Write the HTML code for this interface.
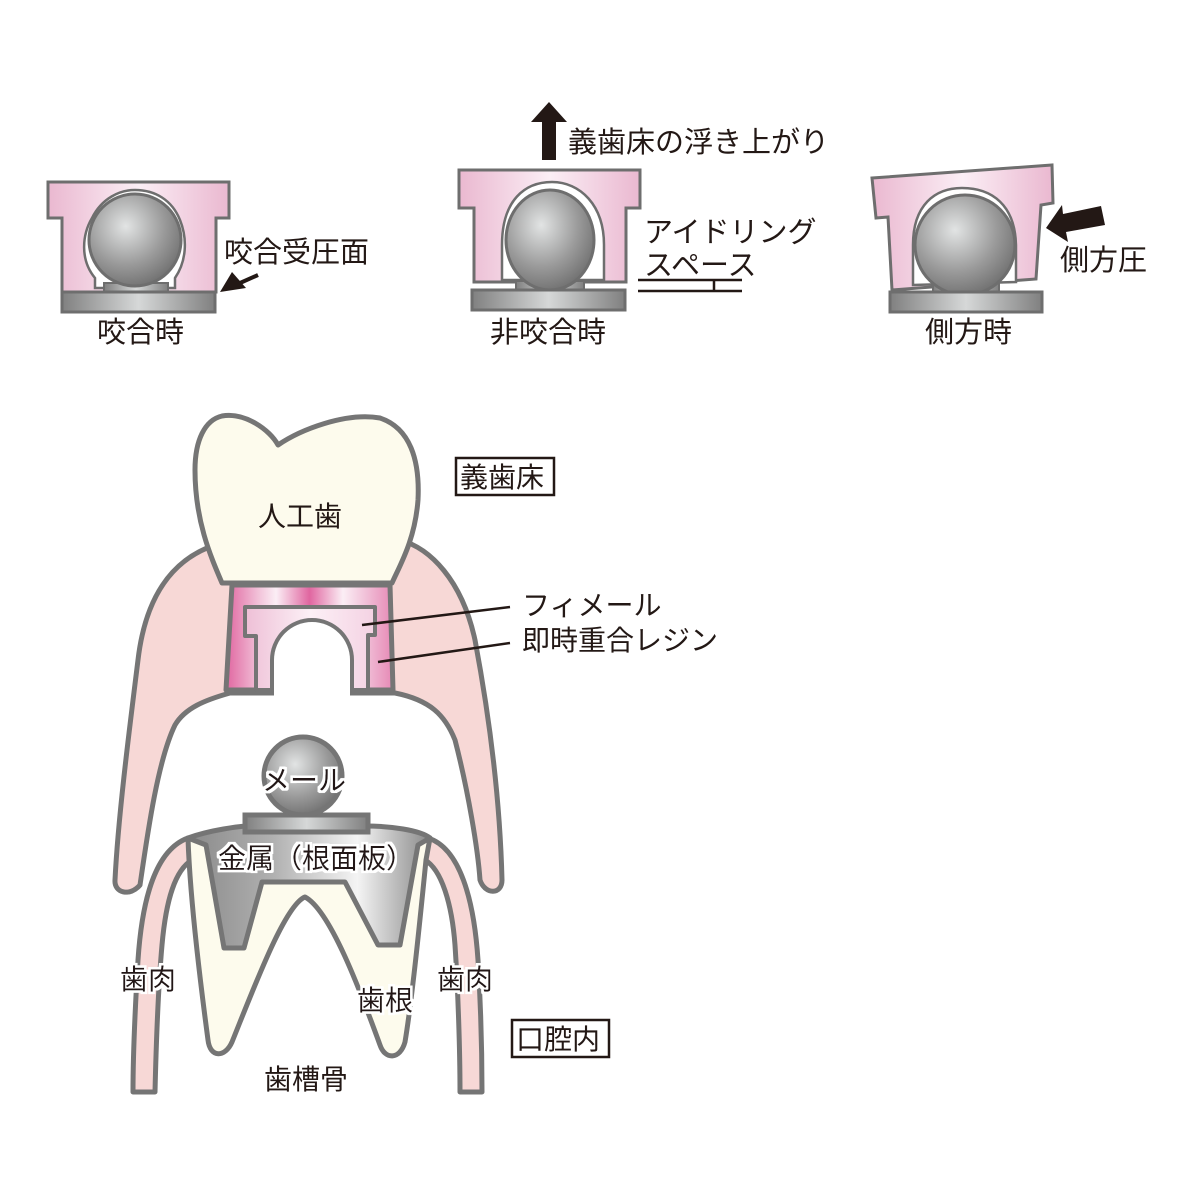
<!DOCTYPE html>
<html><head><meta charset="utf-8"><style>
html,body{margin:0;padding:0;background:#fff;width:1200px;height:1200px;overflow:hidden}
svg text{font-family:"Liberation Sans","Noto Sans CJK JP",sans-serif;fill:#231815}
</style></head><body>
<svg width="1200" height="1200" viewBox="0 0 1200 1200" xmlns="http://www.w3.org/2000/svg">
<defs>
<linearGradient id="pk" x1="0" x2="1" y1="0" y2="0">
<stop offset="0" stop-color="#eab8d0"/><stop offset="0.5" stop-color="#fbeef5"/><stop offset="1" stop-color="#eab8d0"/></linearGradient>
<radialGradient id="ball" cx="0.4" cy="0.35" r="0.7">
<stop offset="0" stop-color="#e2e4e4"/><stop offset="0.6" stop-color="#9a9a9a"/><stop offset="1" stop-color="#6e6e6e"/></radialGradient>
<linearGradient id="base" x1="0" x2="1"><stop offset="0" stop-color="#808080"/><stop offset="0.5" stop-color="#d6d8d8"/><stop offset="1" stop-color="#808080"/></linearGradient>
<linearGradient id="resin" x1="0" x2="1">
<stop offset="0" stop-color="#e066a0"/><stop offset="0.2" stop-color="#f2c4da"/><stop offset="0.3" stop-color="#fbeef5"/><stop offset="0.5" stop-color="#e066a0"/><stop offset="0.7" stop-color="#fbeef5"/><stop offset="0.85" stop-color="#f0bcd5"/><stop offset="1" stop-color="#e688b5"/></linearGradient>
<linearGradient id="fem" x1="0" x2="1"><stop offset="0" stop-color="#eebfd6"/><stop offset="0.5" stop-color="#fcf0f6"/><stop offset="1" stop-color="#f4d2e3"/></linearGradient>
<linearGradient id="metal" x1="0" x2="1"><stop offset="0" stop-color="#8a8a8a"/><stop offset="0.35" stop-color="#b0b0b0"/><stop offset="0.7" stop-color="#f4f4f4"/><stop offset="1" stop-color="#8a8a8a"/></linearGradient>
<filter id="halo"><feMorphology in="SourceAlpha" operator="dilate" radius="2.5" result="d"/><feFlood flood-color="#fff"/><feComposite in2="d" operator="in"/><feMerge><feMergeNode/><feMergeNode in="SourceGraphic"/></feMerge></filter>
</defs>

<!-- Diagram 1 -->
<g stroke="#6e6e6e" stroke-width="3">
<path d="M48 182 H229 V218 H216 V292 H62 V218 H48 Z" fill="url(#pk)"/>
<path d="M95 288 V278 C80 260 82 235 92 218 C102 198 120 190 135 190 C155 190 172 200 180 220 C188 240 186 262 175 278 V288 Z" fill="#fff" stroke-width="2.5"/>
<rect x="104" y="283" width="64" height="10" fill="url(#base)" stroke-width="2"/>
<circle cx="135" cy="240" r="46" fill="url(#ball)"/>
<rect x="62" y="292" width="153" height="20" fill="url(#base)"/>
</g>
<path d="M258 275 L240 283" stroke="#231815" stroke-width="4"/>
<polygon points="220,292 232,272 246,288" fill="#231815"/>
<text x="224" y="262" font-size="29">咬合受圧面</text>
<text x="97" y="342" font-size="29">咬合時</text>

<!-- Diagram 2 -->
<g stroke="#6e6e6e" stroke-width="3">
<path d="M459 170 H640 V208 H626 V282 H474 V208 H459 Z" fill="url(#pk)"/>
<path d="M502 280 V245 C502 200 525 182 552 182 C580 182 604 205 604 245 V280 Z" fill="#fff" stroke-width="2.5"/>
<rect x="516" y="281" width="68" height="10" fill="url(#base)" stroke-width="2"/>
<ellipse cx="550" cy="240" rx="44" ry="50" fill="url(#ball)"/>
<rect x="472" y="290" width="153" height="20" fill="url(#base)"/>
</g>
<rect x="542" y="120" width="14" height="40" fill="#231815"/>
<polygon points="531,122 549,102 567,122" fill="#231815"/>
<text x="568" y="152" font-size="29">義歯床の浮き上がり</text>
<text x="644" y="242" font-size="29">アイドリング</text>
<text x="644" y="275" font-size="29">スペース</text>
<g stroke="#231815" stroke-width="2.5"><line x1="638" y1="280" x2="742" y2="280"/><line x1="638" y1="291" x2="742" y2="291"/><line x1="714" y1="280" x2="714" y2="291"/></g>
<text x="490" y="342" font-size="29">非咬合時</text>

<!-- Diagram 3 -->
<g stroke="#6e6e6e" stroke-width="3">
<path d="M872 178 L1052 165 L1053 203 L1041 205 L1036 279 L892 290 L888 217 L876 218 Z" fill="url(#pk)"/>
<path d="M913 285 V245 C913 205 935 188 962 188 C992 188 1015 205 1016 245 V282 Z" fill="#fff" stroke-width="2.5"/>
<rect x="933" y="283" width="66" height="10" fill="url(#base)" stroke-width="2"/>
<circle cx="965" cy="245" r="50" fill="url(#ball)"/>
<rect x="890" y="292" width="152" height="20" fill="url(#base)"/>
</g>
<polygon points="1046,228 1062,205 1063,214 1101,206 1105,225 1066,232 1068,242" fill="#231815"/>
<text x="1060" y="270" font-size="29">側方圧</text>
<text x="925" y="342" font-size="29">側方時</text>

<!-- Lower diagram -->
<g stroke="#757575" stroke-width="5" stroke-linejoin="round">
<path d="M215 545 C170 560 145 600 138 660 C128 740 118 820 115 880 C114 893 130 897 140 885 C148 830 158 760 175 725 C185 708 205 700 230 693 L395 693 C430 700 445 715 455 740 C468 790 478 850 480 880 C485 895 502 895 502 880 C500 800 490 720 475 640 C462 580 430 548 400 540 Z" fill="#f7d8d6"/>
</g>
<!-- crown -->
<path d="M222 416 C245 412 270 430 278 445 C300 430 345 412 380 418 C410 428 420 460 418 500 C415 540 400 565 392 583 L222 583 C210 555 195 520 195 470 C195 440 205 420 222 416 Z" fill="#fdfbed" stroke="#757575" stroke-width="5" stroke-linejoin="round"/>
<!-- resin block -->
<path d="M232 585 L390 585 L393 690 L352 690 V660 A40 40 0 0 0 272 660 V690 L226 690 Z" fill="url(#resin)" stroke="#757575" stroke-width="5" stroke-linejoin="round"/>
<path d="M245 607 H375 V635 H368 V690 H352 V660 A40 40 0 0 0 272 660 V690 H256 V636 H245 Z" fill="url(#fem)" stroke="#757575" stroke-width="4" stroke-linejoin="round"/>
<path d="M274 697 V660 A38 38 0 0 1 350 660 V697 Z" fill="#fff"/>
<g stroke="#231815" stroke-width="2.5"><line x1="362" y1="625" x2="510" y2="607"/><line x1="378" y1="662" x2="510" y2="643"/></g>

<!-- gum strips -->
<g stroke="#757575" stroke-width="5" stroke-linejoin="round" fill="#f7d8d6">
<path d="M188 838 C155 850 142 900 138 960 C135 1010 133 1060 133 1092 L155 1092 C156 1050 158 990 162 945 C166 900 175 870 192 860 Z"/>
<path d="M428 838 C460 848 474 900 478 960 C481 1010 482 1060 482 1092 L460 1092 C460 1050 458 990 455 945 C452 905 442 870 425 860 Z"/>
</g>
<!-- root -->
<path d="M188 838 L430 838 L426 860 C420 920 412 1000 405 1042 C400 1060 385 1060 380 1045 C360 990 330 910 305 897 C285 905 255 985 232 1042 C225 1058 210 1058 208 1040 C200 980 190 900 188 838 Z" fill="#fdfbed" stroke="#757575" stroke-width="5" stroke-linejoin="round"/>
<!-- metal -->
<path d="M188 838 C210 830 240 826 250 826 L365 826 C390 826 420 830 430 838 L418 845 L400 945 L378 945 L345 882 L262 882 L244 948 L224 948 L206 845 Z" fill="url(#metal)" stroke="#757575" stroke-width="5" stroke-linejoin="round"/>
<rect x="245" y="815" width="123" height="17" fill="url(#base)" stroke="#757575" stroke-width="5"/>
<circle cx="303" cy="776" r="39" fill="url(#ball)" stroke="#757575" stroke-width="5"/>

<text x="258" y="526" font-size="28">人工歯</text>
<rect x="456" y="458" width="98" height="37" fill="none" stroke="#231815" stroke-width="2.5"/>
<text x="460" y="487" font-size="28">義歯床</text>
<text x="522" y="615" font-size="28">フィメール</text>
<text x="522" y="650" font-size="28">即時重合レジン</text>
<text x="262" y="790" font-size="28" filter="url(#halo)">メール</text>
<text x="218" y="868" font-size="28" filter="url(#halo)">金属（根面板）</text>
<text x="120" y="989" font-size="28" filter="url(#halo)">歯肉</text>
<text x="437" y="989" font-size="28" filter="url(#halo)">歯肉</text>
<text x="357" y="1010" font-size="28" filter="url(#halo)">歯根</text>
<text x="264" y="1089" font-size="28">歯槽骨</text>
<rect x="512" y="1020" width="97" height="37" fill="none" stroke="#231815" stroke-width="2.5"/>
<text x="516" y="1049" font-size="28">口腔内</text>
</svg>
</body></html>
